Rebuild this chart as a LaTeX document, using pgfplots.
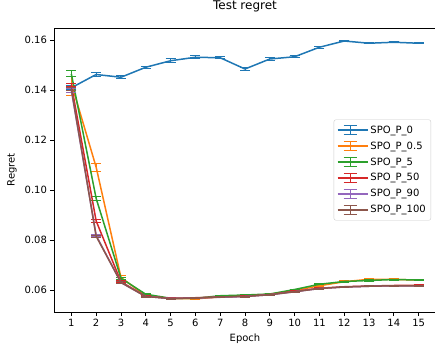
\documentclass[border=0pt]{standalone}
\usepackage{fontspec}
\setmainfont{DejaVu Sans}
\usepackage{pgfplots}
\pgfplotsset{compat=1.18}
\definecolor{c0}{HTML}{1F77B4}
\definecolor{c1}{HTML}{FF7F0E}
\definecolor{c2}{HTML}{2CA02C}
\definecolor{c3}{HTML}{D62728}
\definecolor{c4}{HTML}{9467BD}
\definecolor{c5}{HTML}{8C564B}

\pgfplotstableread{
x y e
1 0.1409 0.0007
2 0.1462 0.0009
3 0.1451 0.0006
4 0.1491 0.0004
5 0.1517 0.0009
6 0.1531 0.0007
7 0.1529 0.0003
8 0.1484 0.0005
9 0.1524 0.0006
10 0.1533 0.0004
11 0.1571 0.0004
12 0.1596 0.0003
13 0.1587 0.0003
14 0.1591 0.0002
15 0.1587 0.0003
}\tA
\pgfplotstableread{
x y e
1 0.1427 0.0049
2 0.1091 0.0017
3 0.0650 0.0010
4 0.0577 0.0003
5 0.0566 0.0003
6 0.0565 0.0004
7 0.0572 0.0002
8 0.0577 0.0003
9 0.0583 0.0002
10 0.0598 0.0003
11 0.0617 0.0003
12 0.0633 0.0004
13 0.0643 0.0005
14 0.0642 0.0003
15 0.0640 0.0003
}\tB
\pgfplotstableread{
x y e
1 0.1464 0.0012
2 0.0966 0.0007
3 0.0647 0.0005
4 0.0583 0.0002
5 0.0567 0.0002
6 0.0567 0.0002
7 0.0577 0.0002
8 0.0580 0.0002
9 0.0584 0.0002
10 0.0602 0.0002
11 0.0623 0.0002
12 0.0634 0.0002
13 0.0638 0.0003
14 0.0642 0.0002
15 0.0640 0.0002
}\tC
\pgfplotstableread{
x y e
1 0.1420 0.0007
2 0.0876 0.0005
3 0.0633 0.0004
4 0.0575 0.0002
5 0.0567 0.0002
6 0.0569 0.0002
7 0.0572 0.0002
8 0.0575 0.0002
9 0.0582 0.0002
10 0.0595 0.0002
11 0.0607 0.0002
12 0.0613 0.0002
13 0.0616 0.0002
14 0.0618 0.0002
15 0.0619 0.0002
}\tD
\pgfplotstableread{
x y e
1 0.1398 0.0007
2 0.0818 0.0003
3 0.0630 0.0003
4 0.0574 0.0002
5 0.0566 0.0002
6 0.0568 0.0002
7 0.0571 0.0002
8 0.0574 0.0002
9 0.0581 0.0002
10 0.0593 0.0002
11 0.0606 0.0002
12 0.0612 0.0002
13 0.0615 0.0002
14 0.0617 0.0002
15 0.0617 0.0002
}\tE
\pgfplotstableread{
x y e
1 0.1404 0.0006
2 0.0815 0.0003
3 0.0630 0.0003
4 0.0574 0.0002
5 0.0566 0.0002
6 0.0568 0.0002
7 0.0572 0.0002
8 0.0574 0.0002
9 0.0581 0.0002
10 0.0593 0.0002
11 0.0606 0.0002
12 0.0612 0.0002
13 0.0615 0.0002
14 0.0617 0.0002
15 0.0616 0.0002
}\tF

\begin{document}
\begin{tikzpicture}
\begin{axis}[
  scale only axis,
  width=382pt, height=284pt,
  xmin=0.3, xmax=15.7,
  ymin=0.0512, ymax=0.1648,
  xtick={1,2,3,4,5,6,7,8,9,10,11,12,13,14,15},
  ytick={0.06,0.08,0.10,0.12,0.14,0.16},
  yticklabel style={/pgf/number format/.cd, fixed, fixed zerofill, precision=2},
  /pgf/number format/assume math mode=true,
  tick label style={font=\fontsize{10}{12}\selectfont},
  tick align=outside, tick pos=left,
  major tick length=3.5pt,
  every tick/.style={black, line width=0.8pt},
  axis line style={black, line width=0.8pt},
  title={Test regret},
  title style={font=\fontsize{12}{14}\selectfont, at={(axis description cs:0.5,1.0423)}, anchor=base},
  xlabel={Epoch},
  xlabel style={font=\fontsize{10}{12}\selectfont, at={(axis description cs:0.5,-0.1056)}, anchor=base},
  ylabel={Regret},
  ylabel style={font=\fontsize{10}{12}\selectfont, at={(axis description cs:-0.11,0.5)}, anchor=center},
  error bars/y dir=both,
  error bars/y explicit,
  error bars/error bar style={line width=1pt},
  error bars/error mark options={rotate=90, mark size=5pt, line width=1pt},
  legend image code/.code={
    \path (-2pt,0pt) -- (28pt,0pt);
    \draw[#1, line width=1.5pt] (0pt,0pt) -- (21pt,0pt);
    \draw[#1, line width=1pt] (10.5pt,-4.5pt) -- (10.5pt,4.5pt);
    \draw[#1, line width=1pt] (4pt,-4.5pt) -- (17pt,-4.5pt);
    \draw[#1, line width=1pt] (4pt,4.5pt) -- (17pt,4.5pt);
  },
  legend style={at={(axis description cs:1,0.5)}, anchor=east, xshift=-5pt,
    font=\fontsize{10}{12}\selectfont, draw=black!20, rounded corners=2pt,
    legend cell align=left, row sep=3pt, inner ysep=4pt, inner xsep=3pt},
]
\addplot[c0, line width=1.5pt, mark=none] table[x=x, y=y, y error=e] {\tA};
\addlegendentry{SPO\_P\_0}
\addplot[c1, line width=1.5pt, mark=none] table[x=x, y=y, y error=e] {\tB};
\addlegendentry{SPO\_P\_0.5}
\addplot[c2, line width=1.5pt, mark=none] table[x=x, y=y, y error=e] {\tC};
\addlegendentry{SPO\_P\_5}
\addplot[c3, line width=1.5pt, mark=none] table[x=x, y=y, y error=e] {\tD};
\addlegendentry{SPO\_P\_50}
\addplot[c4, line width=1.5pt, mark=none] table[x=x, y=y, y error=e] {\tE};
\addlegendentry{SPO\_P\_90}
\addplot[c5, line width=1.5pt, mark=none] table[x=x, y=y, y error=e] {\tF};
\addlegendentry{SPO\_P\_100}
\end{axis}
\pgfresetboundingbox
\useasboundingbox (-54pt,-36pt) rectangle (381pt,312pt);
\end{tikzpicture}
\end{document}
